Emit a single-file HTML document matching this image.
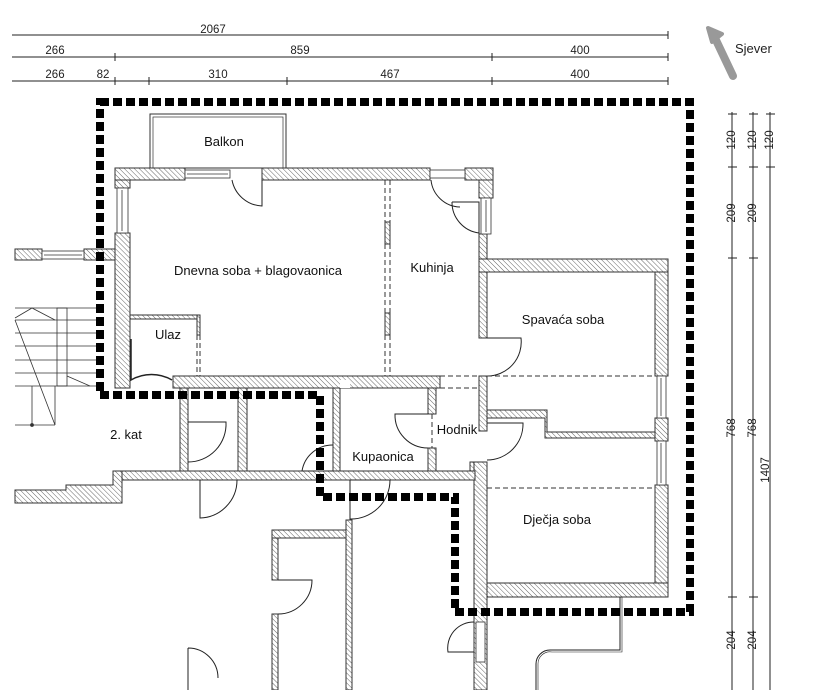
<!DOCTYPE html>
<html><head><meta charset="utf-8"><style>
html,body{margin:0;padding:0;background:#fff;}
svg{display:block;font-family:"Liberation Sans",sans-serif;}
</style></head><body>
<svg width="816" height="690" viewBox="0 0 816 690" xmlns="http://www.w3.org/2000/svg">
<defs>
<pattern id="h" width="3.5" height="3.5" patternUnits="userSpaceOnUse" patternTransform="rotate(-45)">
<rect width="3.5" height="3.5" fill="#fff"/><line x1="0" y1="0" x2="0" y2="3.5" stroke="#666" stroke-width="1"/>
</pattern>
</defs>
<rect width="816" height="690" fill="#fff"/>

<g stroke="#222" stroke-width="1" fill="none">
<line x1="12" y1="35" x2="668" y2="35"/>
<line x1="12" y1="57" x2="668" y2="57"/>
<line x1="12" y1="81" x2="668" y2="81"/>
<path d="M668 31v8 M115 53v8 M492 53v8 M668 53v8 M115 77v8 M149 77v8 M287 77v8 M492 77v8 M668 77v8"/>
<path d="M732 112V690 M753 112V690 M770 112V690"/>
<path d="M728 114h9 M749 114h9 M766 114h9 M728 167h9 M749 167h9 M766 167h9 M728 258h9 M749 258h9 M728 597h9 M749 597h9"/>
</g>
<g font-size="11.5" fill="#222" text-anchor="middle">
<text x="213" y="33">2067</text>
<text x="55" y="54">266</text><text x="300" y="54">859</text><text x="580" y="54">400</text>
<text x="55" y="78">266</text><text x="103" y="78">82</text><text x="218" y="78">310</text><text x="390" y="78">467</text><text x="580" y="78">400</text>
<text transform="translate(735,140) rotate(-90)">120</text>
<text transform="translate(756,140) rotate(-90)">120</text>
<text transform="translate(773,140) rotate(-90)">120</text>
<text transform="translate(735,213) rotate(-90)">209</text>
<text transform="translate(756,213) rotate(-90)">209</text>
<text transform="translate(735,428) rotate(-90)">768</text>
<text transform="translate(756,428) rotate(-90)">768</text>
<text transform="translate(769,470) rotate(-90)">1407</text>
<text transform="translate(735,640) rotate(-90)">204</text>
<text transform="translate(756,640) rotate(-90)">204</text>
</g>

<path d="M733 76 L715 38" stroke="#999" stroke-width="8" stroke-linecap="round"/>
<path d="M708 28 L722 34 L712 42 Z" fill="#999" stroke="#999" stroke-width="4" stroke-linejoin="round"/>
<text x="735" y="53" font-size="13" fill="#222">Sjever</text>

<rect x="150" y="114" width="136" height="54" fill="none" stroke="#333" stroke-width="1"/>
<rect x="153" y="117" width="130" height="51" fill="none" stroke="#333" stroke-width="0.7"/>

<g fill="url(#h)" stroke="#333" stroke-width="1">
<rect x="115" y="168" width="70" height="12"/>
<rect x="262" y="168" width="168" height="12"/>
<rect x="465" y="168" width="28" height="12"/>
<rect x="115" y="180" width="15" height="8"/>
<rect x="115" y="233" width="15" height="155"/>
<rect x="15" y="249" width="27" height="11"/>
<rect x="84" y="249" width="31" height="11"/>
<rect x="479" y="180" width="14" height="18"/>
<rect x="479" y="234" width="8" height="104"/>
<rect x="385" y="222" width="5" height="22"/>
<rect x="385" y="313" width="5" height="22"/>
<rect x="130" y="315" width="70" height="4"/>
<rect x="197" y="315" width="3" height="20"/>
<rect x="479" y="259" width="189" height="13"/>
<rect x="655" y="272" width="13" height="104"/>
<rect x="479" y="272" width="8" height="66"/>
<rect x="479" y="376" width="8" height="55"/>
<path d="M487 410 H547 V432 H655 V438 H545 V418 H487 Z"/>
<rect x="655" y="418" width="13" height="23"/>
<rect x="655" y="485" width="13" height="112"/>
<rect x="474" y="583" width="194" height="14"/>
<rect x="474" y="462" width="13" height="228"/>
<path d="M474 462 H470 V471 H474 Z"/>
<rect x="173" y="376" width="267" height="12"/>
<rect x="180" y="388" width="8" height="83"/>
<rect x="238" y="388" width="9" height="83"/>
<rect x="333" y="388" width="7" height="83"/>
<rect x="340" y="380" width="10" height="8" fill="#fff" stroke="none"/>
<rect x="428" y="388" width="8" height="26"/>
<rect x="428" y="448" width="8" height="23"/>
<rect x="113" y="471" width="362" height="9"/>
<path d="M15 490 H66 V485 H113 V471 H122 V503 H15 Z"/>
<rect x="272" y="530" width="80" height="8"/>
<rect x="272" y="538" width="6" height="42"/>
<rect x="272" y="614" width="6" height="76"/>
<rect x="346" y="520" width="6" height="170"/>
</g>

<g fill="#fff" stroke="#333" stroke-width="0.8">
<rect x="185" y="170" width="45" height="8"/><line x1="187" y1="174" x2="228" y2="174"/>
<rect x="430" y="170" width="35" height="8"/>
<rect x="117" y="188" width="11" height="45"/><line x1="122" y1="190" x2="122" y2="231"/>
<rect x="42" y="251" width="42" height="8"/><line x1="44" y1="255" x2="82" y2="255"/>
<rect x="481" y="198" width="10" height="36"/><line x1="486" y1="200" x2="486" y2="232"/>
<rect x="657" y="376" width="9" height="42"/><line x1="661" y1="378" x2="661" y2="416"/>
<rect x="657" y="441" width="9" height="44"/><line x1="661" y1="443" x2="661" y2="483"/>
<rect x="476" y="622" width="9" height="40"/>
</g>

<g fill="none" stroke="#222" stroke-width="1">
<path d="M262 180 V206 A32 32 0 0 1 232 180"/>
<path d="M452 202 H479 V233 A31 31 0 0 1 452 202"/>
<path d="M431 180 A30 30 0 0 0 460 207"/>
<path d="M131 339 V380 A41 41 0 0 1 172 380" stroke-width="1.5"/>
<path d="M487 338 H521 A34 34 0 0 1 487 376"/>
<path d="M487 423 H523 A36 36 0 0 1 487 460"/>
<path d="M428 414 H395 A33 33 0 0 0 428 448"/>
<path d="M188 422 H226 A38 38 0 0 1 188 462"/>
<path d="M200 480 V518 A38 38 0 0 0 237 480"/>
<path d="M333 445 A31 31 0 0 0 302 471 H333"/>
<path d="M350 480 V519 A39 39 0 0 0 390 480 H350"/>
<path d="M278 580 H312 A34 34 0 0 1 278 614"/>
<path d="M474 622 A26 26 0 0 0 448 652 H474"/>
<path d="M188 648 A30 30 0 0 1 218 678 M188 648 V690"/>
<path d="M620 597 V650 H550 A14 14 0 0 0 536 664 V690"/>
<path d="M622 597 V652 H552 A12 12 0 0 0 538 664 V690" stroke-width="0.6"/>
</g>

<g stroke="#333" stroke-width="1" stroke-dasharray="5 3" fill="none">
<path d="M385 180 V222 M390 180 V222 M385 244 V313 M390 244 V313 M385 335 V376 M390 335 V376"/>
<path d="M197 335 V376 M200 335 V376"/>
<path d="M440 376 H479 M440 388 H479"/>
<path d="M487 376 H655 M487 488 H655"/>
<path d="M432 414 V448"/>
</g>

<g stroke="#333" stroke-width="0.8" fill="none">
<path d="M15 308 H100 M15 320 H100 M15 333 H100 M15 346 H100 M15 360 H100 M15 373 H100 M15 386 H100"/>
<rect x="57" y="308" width="10" height="78"/>
<path d="M15 318 L32 308 L55 320 M15 320 L55 425 M15 425 H55 M32 386 V425 M55 386 V425 M67 376 L90 386"/>
<circle cx="32" cy="425" r="1.5" fill="#333"/>
</g>

<path d="M100 102 H690 V612 H455 V497 H320 V395 H100 Z" fill="none" stroke="#000" stroke-width="8" stroke-dasharray="9 4"/>

<g font-size="13" fill="#111" text-anchor="middle">
<text x="224" y="146">Balkon</text>
<text x="258" y="275">Dnevna soba + blagovaonica</text>
<text x="432" y="272">Kuhinja</text>
<text x="168" y="339">Ulaz</text>
<text x="126" y="439">2. kat</text>
<text x="563" y="324">Spavaća soba</text>
<text x="457" y="434">Hodnik</text>
<text x="383" y="461">Kupaonica</text>
<text x="557" y="524">Dječja soba</text>
</g>
</svg>
</body></html>
